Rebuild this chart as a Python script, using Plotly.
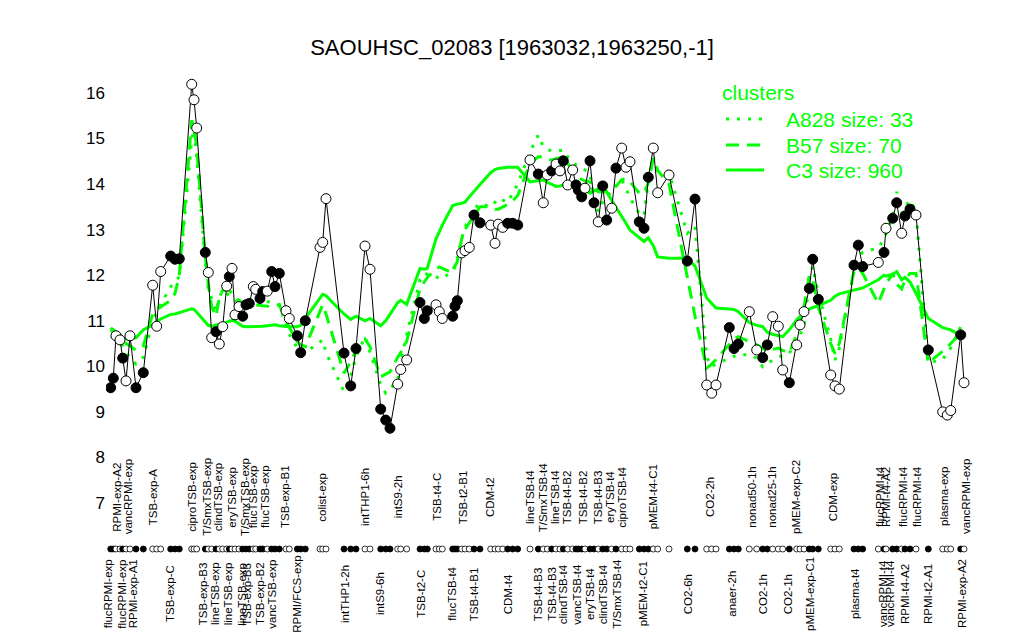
import plotly.graph_objects as go

# ---------------- data ----------------
title_text = "SAOUHSC_02083 [1963032,1963250,-1]"

# sample positions along the condition axis
pos = [110.7, 113.3, 116.0, 120.0, 122.7, 126.0, 130.0, 136.0, 143.3,
       152.7, 156.7, 160.7, 170.7, 175.0, 179.3, 191.7, 194.0, 196.7,
       205.3, 208.3, 211.7, 216.0, 219.3, 222.7, 226.7, 229.3, 232.0, 235.0,
       239.0, 242.7, 246.0, 249.3, 253.3, 255.7, 260.0, 262.7, 267.3, 271.7,
       275.0, 279.3, 286.0, 289.3, 297.3, 300.7, 305.3, 320.0, 322.7, 326.0,
       344.0, 350.7, 356.0, 365.0, 370.0, 380.7, 385.7, 390.0, 397.7, 400.7,
       406.7, 420.0, 424.3, 427.3, 436.0, 439.3, 442.3, 452.7, 455.0, 457.3,
       461.7, 465.0, 469.3, 474.0, 480.0, 490.7, 495.0, 498.3, 502.7, 507.7,
       512.7, 517.7, 530.0, 538.3, 543.3, 547.3, 551.7, 556.0, 560.0, 563.3,
       567.7, 572.7, 576.0, 578.3, 581.7, 585.0, 590.0, 594.0, 598.3, 602.7,
       606.7, 611.7, 616.0, 621.7, 626.0, 630.0, 639.3, 644.0, 648.3, 653.3,
       657.7, 669.0, 687.3, 695.0, 706.7, 711.7, 716.0, 729.3, 734.0, 738.3,
       749.3, 756.7, 762.7, 767.3, 772.7, 778.3, 782.7, 789.3, 796.7, 800.0,
       804.0, 809.3, 812.7, 818.3, 830.7, 835.0, 839.3, 854.0, 858.3, 862.7,
       878.3, 884.0, 886.0, 892.7, 896.7, 901.7, 905.0, 910.0, 916.0, 928.3,
       942.7, 947.3, 950.7, 960.7, 964.0]

expr = [9.53, 9.74, 10.67, 10.58, 10.18, 9.68, 10.67, 9.53, 9.86,
        11.78, 10.88, 12.08, 12.42, 12.35, 12.36, 16.19, 15.85, 15.23,
        12.50, 12.06, 10.63, 10.76, 10.49, 10.87, 11.76, 11.97, 12.15, 11.13,
        11.31, 11.10, 11.35, 11.38, 11.75, 11.69, 11.49, 11.64, 11.65, 12.08,
        11.75, 12.04, 11.22, 11.05, 10.67, 10.30, 11.00, 12.61, 12.72, 13.68,
        10.29, 9.57, 10.39, 12.64, 12.13, 9.06, 8.82, 8.64, 9.61, 9.93,
        10.14, 11.40, 11.05, 11.22, 11.35, 11.20, 11.05, 11.10, 11.32, 11.44,
        12.49, 12.54, 12.61, 13.32, 13.15, 13.10, 12.70, 13.12, 13.05, 13.14,
        13.14, 13.10, 14.53, 14.22, 13.59, 14.20, 14.29, 14.44, 14.29, 14.51,
        13.98, 14.31, 13.98, 13.87, 13.72, 13.91, 14.51, 13.59, 13.17, 13.96,
        13.21, 13.47, 14.35, 14.79, 14.37, 14.49, 13.17, 13.03, 14.15, 14.79,
        13.81, 14.20, 12.31, 13.67, 9.59, 9.41, 9.59, 10.85, 10.39, 10.49,
        11.20, 10.36, 10.19, 10.47, 11.09, 10.88, 9.92, 9.64, 10.47, 10.91,
        11.20, 11.71, 12.35, 11.47, 9.81, 9.57, 9.50, 12.22, 12.66, 12.19,
        12.28, 12.50, 13.03, 13.25, 13.59, 12.92, 13.30, 13.45, 13.32, 10.36,
        9.00, 8.93, 9.03, 10.69, 9.64]

filled = [1, 1, 0, 0, 1, 0, 0, 1, 1,
          0, 0, 0, 1, 1, 1, 0, 0, 0,
          1, 0, 0, 1, 0, 0, 0, 1, 0, 0,
          0, 1, 1, 1, 0, 0, 1, 1, 0, 1,
          1, 1, 0, 0, 1, 1, 1, 0, 0, 0,
          1, 1, 1, 0, 0, 1, 1, 1, 0, 0,
          0, 1, 1, 1, 0, 0, 0, 1, 1, 1,
          0, 0, 0, 1, 1, 0, 0, 0, 0, 1,
          1, 1, 0, 1, 0, 0, 1, 0, 0, 1,
          0, 0, 1, 1, 1, 0, 1, 1, 0, 1,
          1, 0, 1, 0, 0, 0, 1, 1, 1, 0,
          0, 0, 1, 1, 0, 0, 0, 1, 1, 1,
          0, 0, 1, 1, 0, 0, 0, 1, 0, 0,
          0, 1, 1, 1, 0, 0, 0, 1, 1, 1,
          0, 1, 0, 1, 1, 0, 1, 1, 0, 1,
          0, 0, 0, 1, 0]

a828 = [10.8, 10.85, 10.75, 10.6, 10.45, 10.3, 10.2, 10.05, 10.2,
        11.0, 11.2, 11.35, 11.75, 11.85, 11.97, 15.0, 15.2, 14.6,
        12.3, 11.7, 11.46, 11.2, 11.5, 11.67, 11.6, 11.55, 11.5, 11.45,
        11.4, 11.38, 11.4, 11.42, 11.44, 11.45, 11.46, 11.45, 11.42, 11.4,
        11.38, 11.35, 10.9, 10.7, 10.4, 10.3, 10.3, 10.55, 10.58, 10.3,
        9.45, 9.8, 10.2, 10.65, 10.3, 9.6, 9.41, 9.5, 9.7, 10.1,
        10.7, 11.9, 12.04, 12.02, 11.97, 11.95, 11.92, 12.1, 12.25, 12.35,
        12.8, 13.05, 13.25, 13.45, 13.58, 13.5, 13.6, 13.69, 13.65, 13.6,
        13.8, 14.0, 14.7, 15.08, 14.82, 14.78, 14.72, 14.72, 14.74, 14.75,
        14.6, 14.5, 14.42, 14.4, 14.35, 14.3, 14.24, 13.6, 13.4, 13.6,
        13.7, 13.85, 13.95, 14.1, 13.9, 13.7, 13.35, 13.3, 14.1, 14.55,
        14.3, 14.25, 12.92, 13.07, 10.2, 9.99, 10.05, 10.18, 10.22, 10.26,
        10.25, 10.18, 9.99, 10.05, 10.14, 10.2, 10.24, 10.28, 10.6, 10.7,
        10.85, 11.9, 12.19, 11.6, 10.6, 10.14, 10.4, 12.1, 12.4, 12.5,
        12.6, 12.8, 12.9, 13.3, 13.83, 13.36, 13.5, 13.65, 13.4, 10.07,
        10.15, 10.3, 10.4, 10.87, 10.9]

b57 = [10.75, 10.8, 10.75, 10.7, 10.6, 10.5, 10.45, 10.35, 10.45,
       11.15, 11.25, 11.3, 11.45, 11.6, 12.0, 15.4, 15.25, 14.8,
       12.4, 11.8, 11.3, 11.1, 11.5, 11.67, 11.67, 11.67, 11.6, 11.5,
       11.45, 11.4, 11.35, 11.35, 11.35, 11.35, 11.34, 11.33, 11.32, 11.31,
       11.33, 11.35, 11.0, 10.85, 10.55, 10.47, 10.43, 11.2, 11.35, 11.15,
       9.85, 10.1, 10.35, 10.6, 10.43, 9.77, 9.82, 9.88, 10.2, 10.3,
       10.55, 11.7, 11.85, 11.95, 12.13, 12.18, 12.15, 12.05, 12.2, 12.3,
       12.8, 13.0, 13.15, 13.3, 13.5, 13.5, 13.45, 13.45, 13.5, 13.55,
       13.63, 13.75, 14.45, 14.6, 14.6, 14.55, 14.53, 14.56, 14.58, 14.6,
       14.45, 14.3, 14.2, 14.15, 14.1, 14.07, 14.05, 13.9, 13.83, 13.83,
       13.83, 13.9, 13.95, 14.1, 14.12, 14.05, 13.8, 13.8, 14.02, 14.57,
       14.3, 14.0, 12.0, 11.1, 9.96, 10.05, 10.15, 10.5, 10.6, 10.65,
       10.55, 10.47, 10.4, 10.32, 10.37, 10.4, 10.35, 10.3, 10.7, 10.95,
       11.3, 12.0, 11.9, 11.3, 10.5, 10.28, 10.5, 12.1, 12.15, 12.04,
       11.38, 11.7, 11.8, 12.04, 11.8, 11.7, 11.9, 12.04, 12.04, 10.07,
       10.33, 10.42, 10.5, 10.72, 10.75]

c3 = [10.65, 10.64, 10.63, 10.62, 10.61, 10.6, 10.59, 10.63, 10.8,
      10.91, 10.97, 11.04, 11.14, 11.15, 11.18, 11.26, 11.25, 11.18,
      10.98, 10.9, 10.88, 10.9, 10.92, 10.94, 10.97, 10.99, 11.01, 10.99,
      10.93, 10.88, 10.87, 10.87, 10.87, 10.87, 10.88, 10.88, 10.89, 10.9,
      10.91, 10.89, 10.87, 10.87, 10.87, 10.9, 11.05, 11.5, 11.58, 11.55,
      11.15, 11.03, 11.1, 11.0, 11.05, 10.89, 11.0, 11.14, 11.4, 11.45,
      11.36, 12.15, 12.13, 12.15, 12.8, 12.95, 13.1, 13.53, 13.55, 13.56,
      13.58, 13.6, 13.72, 13.85, 13.99, 14.25, 14.32, 14.34, 14.36, 14.37,
      14.37, 14.37, 14.05, 14.07, 14.09, 14.04, 14.0, 13.95, 13.96, 13.98,
      14.01, 14.0, 13.97, 13.95, 13.92, 13.87, 13.8, 13.85, 13.89, 13.94,
      13.82, 13.65, 13.5, 13.3, 13.14, 12.99, 12.82, 12.74, 12.82, 12.65,
      12.4, 12.37, 12.37, 12.2, 11.5, 11.38, 11.28, 11.26, 11.25, 11.2,
      10.96, 10.9, 10.87, 10.75, 10.7, 10.67, 10.65, 10.8, 11.02, 11.09,
      11.17, 11.26, 11.29, 11.33, 11.45, 11.54, 11.59, 11.68, 11.7, 11.72,
      11.9, 12.0, 11.98, 12.02, 12.08, 11.9, 11.95, 11.85, 11.6, 11.05,
      10.85, 10.82, 10.8, 10.68, 10.65]

cluster_names = ["A828 size: 33", "B57 size: 70", "C3 size: 960"]
legend_title = "clusters"

top_labels = ["RPMI-exp-A2", "vancRPMI-exp", "TSB-exp-A", "ciproTSB-exp", "T/SmxTSB-exp",
              "clindTSB-exp", "eryTSB-exp", "T/SmxTSB-exp", "flucTSB-exp", "flucTSB-exp",
              "TSB-exp-B1", "colist-exp", "intTHP1-6h", "intS9-2h", "TSB-t4-C", "TSB-t2-B1",
              "CDM-t2", "lineTSB-t4", "T/SmxTSB-t4", "lineTSB-t4", "TSB-t4-B2", "TSB-t4-B2",
              "TSB-t4-B3", "eryTSB-t4", "ciproTSB-t4", "pMEM-t4-C1", "CO2-2h", "nonad50-1h",
              "nonad25-1h", "pMEM-exp-C2", "CDM-exp", "flucRPMI-t4", "RPMI-t4-A2",
              "flucRPMI-t4", "flucRPMI-t4", "plasma-exp", "vancRPMI-exp"]
top_pos = [116.7, 128.3, 153.3, 191.7, 206.7, 218.3, 231.7, 245.0, 253.3, 265.0,
           285.0, 321.7, 365.0, 398.3, 436.7, 463.3, 490.0, 530.0, 543.3, 555.0,
           567.3, 583.3, 598.3, 610.0, 621.7, 653.3, 710.0, 751.7, 771.7, 796.0,
           833.3, 880.0, 886.0, 903.0, 917.0, 944.0, 966.0]

bottom_labels = ["flucRPMI-exp", "flucRPMI-exp", "RPMI-exp-A1", "TSB-exp-C", "TSB-exp-B3",
                 "lineTSB-exp", "lineTSB-exp", "lineTSB-exp", "TSB-exp-B3", "TSB-exp-B2",
                 "vancTSB-exp", "RPMI/FCS-exp", "intTHP1-2h", "intS9-6h", "TSB-t2-C",
                 "flucTSB-t4", "TSB-t4-B1", "CDM-t4", "TSB-t4-B3", "TSB-t4-B3", "clindTSB-t4",
                 "vancTSB-t4", "eryTSB-t4", "clindTSB-t4", "T/SmxTSB-t4", "pMEM-t2-C1",
                 "CO2-6h", "anaer-2h", "CO2-1h", "CO2-1h", "pMEM-exp-C1", "plasma-t4",
                 "vancRPMI-t4", "vancRPMI-t4", "RPMI-t4-A2", "RPMI-t2-A1", "RPMI-exp-A2"]
bottom_pos = [108.3, 121.7, 133.3, 170.0, 203.3, 215.0, 228.3, 241.7, 246.7, 260.0,
              271.7, 296.7, 345.0, 380.0, 420.7, 451.7, 474.3, 508.3, 538.3, 551.7,
              563.3, 576.7, 590.0, 603.3, 616.7, 643.3, 688.3, 731.7, 763.3, 788.3,
              810.0, 855.0, 883.0, 890.0, 905.0, 928.0, 962.0]

y_ticks = [7, 8, 9, 10, 11, 12, 13, 14, 15, 16]

# ---------------- layout helpers ----------------
W, H = 1024, 640
PAGE = 8                 # default body margin of the html page
ML, MR, MT, MB = 106, 49, 60, 0   # plot area edges in screen pixels
PX_UNIT = 45.56          # pixels per expression unit
Y7_PX = 503              # screen row of value 7


def y_at(px):
    return 7 + (Y7_PX - px) / PX_UNIT


y_range = [y_at(H - MB), y_at(MT)]
x_range = [ML, W - MR]
GREEN = "#00FF00"
FONT = "Liberation Sans, Arial, Helvetica, sans-serif"

fig = go.Figure()

# cluster profiles
fig.add_trace(go.Scatter(x=pos, y=a828, mode="lines",
                         line=dict(color=GREEN, width=3, dash="3px,8px"), hoverinfo="skip"))
fig.add_trace(go.Scatter(x=pos, y=b57, mode="lines",
                         line=dict(color=GREEN, width=3, dash="13px,8px"), hoverinfo="skip"))
fig.add_trace(go.Scatter(x=pos, y=c3, mode="lines",
                         line=dict(color=GREEN, width=3), hoverinfo="skip"))

fill_cols = ["black" if f else "white" for f in filled]

# gene profile
fig.add_trace(go.Scatter(x=pos, y=expr, mode="lines+markers",
                         line=dict(color="black", width=1),
                         marker=dict(size=10, color=fill_cols,
                                     line=dict(color="black", width=1))))

# condition dot row
dot_y = y_at(549)
fig.add_trace(go.Scatter(x=pos, y=[dot_y] * len(pos), mode="markers",
                         marker=dict(size=6, color=fill_cols,
                                     line=dict(color="black", width=0.8))))

annotations = []
for lab, xp in zip(top_labels, top_pos):
    annotations.append(dict(x=xp, y=y_at(497), xref="x", yref="y", text=lab,
                            showarrow=False, textangle=-90, xanchor="center",
                            yanchor="middle", borderpad=0,
                            font=dict(family=FONT, size=11.5, color="black")))
for lab, xp in zip(bottom_labels, bottom_pos):
    annotations.append(dict(x=xp, y=y_at(594), xref="x", yref="y", text=lab,
                            showarrow=False, textangle=-90, xanchor="center",
                            yanchor="middle", borderpad=0,
                            font=dict(family=FONT, size=11.5, color="black")))

# legend (manual, R style)
annotations.append(dict(x=720, y=y_at(92), xref="x", yref="y", text=legend_title,
                        showarrow=False, xanchor="left", yanchor="middle",
                        font=dict(family=FONT, size=21, color=GREEN)))
shapes = []
leg_rows = [119, 145, 170]
leg_dash = ["3px,8px", "13px,8px", "solid"]
for name, row, dsh in zip(cluster_names, leg_rows, leg_dash):
    annotations.append(dict(x=784, y=y_at(row), xref="x", yref="y", text=name,
                            showarrow=False, xanchor="left", yanchor="middle",
                            font=dict(family=FONT, size=21, color=GREEN)))
    shapes.append(dict(type="line", xref="x", yref="y", x0=726, x1=764,
                       y0=y_at(row), y1=y_at(row),
                       line=dict(color=GREEN, width=3, dash=dsh)))

fig.update_layout(
    width=W, height=H,
    margin=dict(l=ML - PAGE, r=MR + PAGE, t=MT - PAGE, b=MB + PAGE),
    paper_bgcolor="white", plot_bgcolor="white",
    showlegend=False,
    title=dict(text=title_text, x=(W / 2 - PAGE) / W, xref="container", xanchor="center",
               y=1 - (47 - PAGE) / H, yref="container", yanchor="middle",
               font=dict(family=FONT, size=22, color="black")),
    xaxis=dict(range=x_range, visible=False),
    yaxis=dict(range=y_range, tickvals=y_ticks, ticktext=[str(v) for v in y_ticks],
               showgrid=False, zeroline=False, showline=False, ticks="",
               tickfont=dict(family=FONT, size=17, color="black")),
    annotations=annotations,
    shapes=shapes,
)

fig.write_html("out.html")
